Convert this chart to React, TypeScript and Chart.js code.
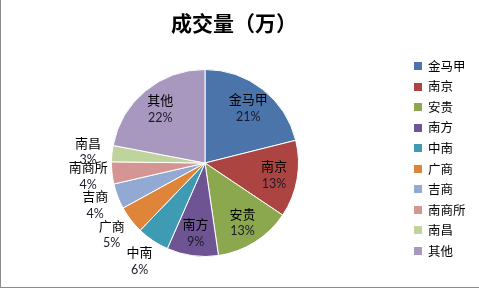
import React, { useEffect, useRef } from "react";
import { Chart, registerables } from "chart.js";

Chart.register(...registerables);

const categories = ["金马甲", "南京", "安贵", "南方", "中南", "广商", "吉商", "南商所", "南昌", "其他"];
const values = [21.1, 13.3, 13.3, 8.9, 5.6, 4.8, 4.4, 3.8, 2.8, 22];
const colors = ["#4A74AA", "#AC4541", "#8CA84E", "#6F5494", "#3F9AB3", "#DE853A", "#92AAD3", "#D59592", "#BFD49C", "#A898C0"];
const insideLabel = [true, true, true, true, false, false, false, false, false, true];
const titleText = "成交量（万）";

const CJK = '"Noto Sans CJK SC", sans-serif';

const drawPlugin = {
  id: "customDraw",
  afterDraw(chart: any) {
    const ctx = chart.ctx;
    const meta = chart.getDatasetMeta(0);
    const total = values.reduce((a, b) => a + b, 0);
    ctx.save();
    // frame
    ctx.fillStyle = "#8c8c8c";
    ctx.fillRect(0, 0, 1, chart.height);
    ctx.fillRect(0, chart.height - 1, chart.width, 1);
    // title
    ctx.fillStyle = "#000";
    ctx.textAlign = "center";
    ctx.textBaseline = "middle";
    ctx.font = `bold 21px ${CJK}`;
    ctx.fillText(titleText, 234, 23);
    // data labels
    meta.data.forEach((arc: any, i: number) => {
      const p = arc.getProps(["x", "y", "startAngle", "endAngle", "outerRadius"], true);
      const mid = (p.startAngle + p.endAngle) / 2;
      const d = insideLabel[i] ? p.outerRadius * 0.75 : p.outerRadius + 24;
      const cx = p.x + Math.cos(mid) * d;
      const cy = p.y + Math.sin(mid) * d;
      const pct = Math.round((values[i] / total) * 100) + "%";
      ctx.fillStyle = "#000";
      ctx.font = `13px ${CJK}`;
      ctx.fillText(categories[i], cx, cy - 8.5);
      ctx.fillStyle = "#1a1a2a";
      ctx.font = "12.5px Lato, sans-serif";
      ctx.fillText(pct, cx, cy + 9);
    });
    // legend
    ctx.textAlign = "left";
    categories.forEach((c, i) => {
      const y = 66 + i * 20.56;
      ctx.fillStyle = colors[i];
      ctx.fillRect(414, Math.round(y - 4), 8, 8);
      ctx.fillStyle = "#000";
      ctx.font = `12.5px ${CJK}`;
      ctx.fillText(c, 428, y);
    });
    ctx.restore();
  },
};

export default function App() {
  const ref = useRef<HTMLCanvasElement>(null);
  useEffect(() => {
    document.body.style.margin = "0";
    const chart = new Chart(ref.current!, {
      type: "pie",
      data: {
        labels: categories,
        datasets: [
          {
            data: values,
            backgroundColor: colors,
            borderColor: "#ffffff",
            borderWidth: 1,
          },
        ],
      },
      options: {
        responsive: false,
        animation: false,
        events: [],
        layout: { padding: { left: 111, top: 69, right: 180, bottom: 31 } },
        plugins: {
          legend: { display: false },
          title: { display: false },
          tooltip: { enabled: false },
        },
      },
      plugins: [drawPlugin],
    });
    return () => chart.destroy();
  }, []);
  return <canvas ref={ref} width={479} height={288} style={{ display: "block" }} />;
}
